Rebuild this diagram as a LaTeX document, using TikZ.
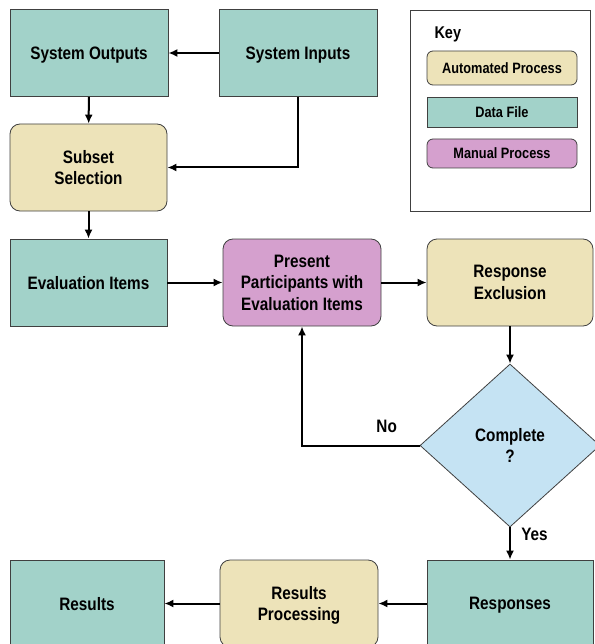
\documentclass[tikz,border=0pt]{standalone}
\usepackage{fontspec}
\setmainfont{Liberation Sans}[FakeStretch=0.85]
\usetikzlibrary{shapes.geometric,arrows.meta}
\definecolor{datafill}{HTML}{A2D2C9}
\definecolor{autofill}{HTML}{EDE3B9}
\definecolor{manualfill}{HTML}{D5A0CE}
\definecolor{decisionfill}{HTML}{C5E3F3}
\begin{document}
\begin{tikzpicture}[
    x=1pt, y=-1pt,
    box/.style={draw=black!75, line width=0.8pt, minimum width=158pt, minimum height=87pt,
      align=center, inner sep=2pt, text depth=0pt, font=\bfseries\fontsize{18}{21.5}\selectfont},
    datafile/.style={box, fill=datafill},
    autoproc/.style={box, rounded corners=10pt, fill=autofill},
    manualproc/.style={box, rounded corners=10pt, fill=manualfill},
    decision/.style={box, diamond, fill=decisionfill, minimum width=180pt, minimum height=163pt, inner sep=0pt},
    keyitem/.style={draw=black!75, line width=0.8pt, minimum width=150pt, align=center, text depth=0pt,
      font=\bfseries\fontsize{15}{18}\selectfont},
    flow/.style={-{Latex[length=9pt,width=8pt]}, line width=2pt},
    lbl/.style={font=\bfseries\fontsize{18}{21.5}\selectfont}
  ]
  \useasboundingbox (0,0) rectangle (594,644);

  % key
  \node[draw=black!75, line width=0.8pt, minimum width=180pt, minimum height=201pt] (key) at (500,110.5) {};
  \node[lbl, font=\bfseries\fontsize{17}{20}\selectfont, anchor=west] (keytitle) at (431,34) {Key};
  \node[keyitem, rounded corners=6pt, fill=autofill, minimum height=34pt] (keyauto) at (502,68) {Automated Process};
  \node[keyitem, fill=datafill, minimum height=30pt] (keydata) at (502,112) {Data File};
  \node[keyitem, rounded corners=6pt, fill=manualfill, minimum height=29pt] (keymanual) at (502,153.5) {Manual Process};

  % flow chart
  \node[datafile] (outputs) at (89,53) {System Outputs};
  \node[datafile] (inputs) at (298,53) {System Inputs};
  \node[autoproc, minimum width=157pt] (subset) at (88.5,167.5) {Subset\\Selection};
  \node[datafile, minimum width=157pt] (evalitems) at (88.5,282.5) {Evaluation Items};
  \node[manualproc] (present) at (302,282.5) {Present\\Participants with\\Evaluation Items};
  \node[autoproc, minimum width=166pt] (exclusion) at (510,282.5) {Response\\Exclusion};
  \node[decision] (complete) at (510,445.5) {Complete\\?};
  \node[datafile, minimum width=154pt] (results) at (87,603.5) {Results};
  \node[autoproc] (resproc) at (299,603.5) {Results\\Processing};
  \node[datafile, minimum width=166pt] (responses) at (510,603.5) {Responses};

  \draw[flow] (inputs) -- (outputs);
  \draw[flow] (outputs) -- (subset);
  \draw[flow] (inputs.south) |- (subset.east);
  \draw[flow] (subset) -- (evalitems);
  \draw[flow] (evalitems) -- (present);
  \draw[flow] (present) -- (exclusion);
  \draw[flow] (exclusion) -- (complete);
  \draw[flow] (complete.west) -| node[lbl, pos=0.14, above=8pt] {No} (present.south);
  \draw[flow] (complete) -- node[lbl, pos=0.22, right=7pt] {Yes} (responses);
  \draw[flow] (responses) -- (resproc);
  \draw[flow] (resproc) -- (results);
\end{tikzpicture}
\end{document}
